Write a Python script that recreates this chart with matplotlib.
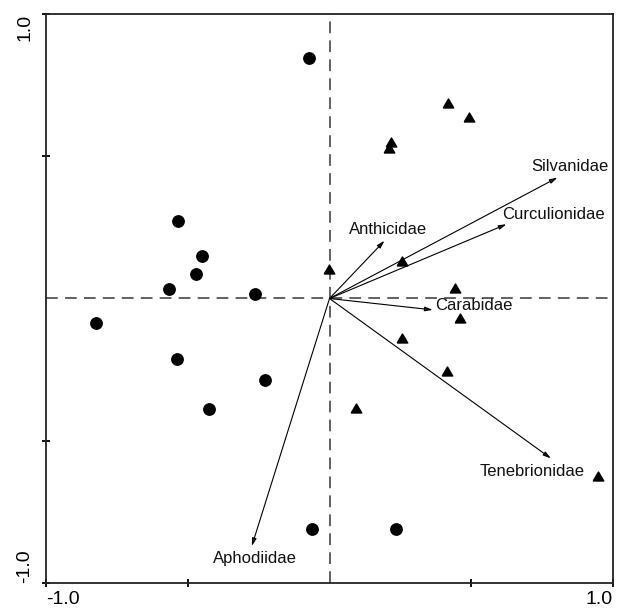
import matplotlib
matplotlib.use("Agg")
import matplotlib.pyplot as plt

plt.rcParams['font.family'] = ['Liberation Sans', 'DejaVu Sans']

# Sample scores (circles)
circle_x = [-0.074, -0.534, -0.451, -0.472, -0.567, -0.264, -0.824, -0.539, -0.228, -0.425, -0.060, 0.235]
circle_y = [0.845, 0.271, 0.150, 0.087, 0.032, 0.016, -0.087, -0.213, -0.286, -0.388, -0.811, -0.809]

# Sample scores (triangles)
tri_x = [0.417, 0.492, 0.216, 0.209, -0.002, 0.255, 0.444, 0.459, 0.257, 0.413, 0.092, 0.947]
tri_y = [0.686, 0.638, 0.551, 0.528, 0.105, 0.132, 0.038, -0.070, -0.140, -0.254, -0.385, -0.623]

# Species vectors
species = ["Silvanidae", "Curculionidae", "Anthicidae", "Carabidae", "Tenebrionidae", "Aphodiidae"]
vec_x = [0.804, 0.624, 0.194, 0.364, 0.781, -0.274]
vec_y = [0.425, 0.261, 0.203, -0.040, -0.562, -0.870]

tick_vals = [-1.0, -0.5, 0.5, 1.0]
tick_labels = ["-1.0", "", "", "1.0"]

fig = plt.figure(figsize=(6.19, 6.12), dpi=100)
W, H = 619, 612
ax = fig.add_axes([46 / W, 1 - 583 / H, (613 - 46) / W, (583 - 14) / H])
ax.set_xlim(-1, 1)
ax.set_ylim(-1, 1)

ax.axhline(0, color='#555555', lw=1.3, ls=(0, (6.5, 4)), zorder=1)
ax.axvline(0, color='#555555', lw=1.3, ls=(0, (6.5, 4)), zorder=1)

ax.plot(circle_x, circle_y, 'o', color='black', markersize=8.2, zorder=3)
tri_marker = [(-1, -0.85), (1, -0.85), (0, 0.85), (-1, -0.85)]
ax.plot(tri_x, tri_y, linestyle='none', marker=tri_marker, color='black', markersize=7.6, zorder=3)

# label placement (pixel offsets from arrow tips, alignment)
label_style = {
    "Silvanidae": ((51, 11), 'right'),
    "Curculionidae": ((-4.6, 9.3), 'left'),
    "Anthicidae": ((3.5, 11.7), 'center'),
    "Carabidae": ((2.7, 4), 'left'),
    "Tenebrionidae": ((-71.7, -13.4), 'left'),
    "Aphodiidae": ((3.2, -12.3), 'center'),
}

for name, vx, vy in zip(species, vec_x, vec_y):
    ax.annotate("", xy=(vx, vy), xytext=(0, 0),
                arrowprops=dict(arrowstyle='-|>,head_length=0.45,head_width=0.13',
                                color='black', lw=0.8, shrinkA=0, shrinkB=0,
                                fc='#1a1a40'), zorder=2)
    off, ha = label_style[name]
    ax.annotate(name, xy=(vx, vy), xytext=off, textcoords='offset pixels',
                ha=ha, va='center', fontsize=12, color='#111111', zorder=4)

for s in ax.spines.values():
    s.set_linewidth(1.3)
    s.set_color('#222222')

ax.set_xticks(tick_vals)
ax.set_yticks(tick_vals)
ax.set_xticklabels(tick_labels)
ax.set_yticklabels(tick_labels, rotation=90)
ax.tick_params(direction='inout', length=6, width=1.3, labelsize=14)
ax.tick_params(axis='x', pad=3)
ax.tick_params(axis='y', pad=6)
xl = ax.get_xticklabels()
xl[0].set_ha('left')
xl[-1].set_ha('right')
yl = ax.get_yticklabels()
yl[0].set_va('bottom')
yl[-1].set_va('top')

fig.savefig("out.png", dpi=100)
